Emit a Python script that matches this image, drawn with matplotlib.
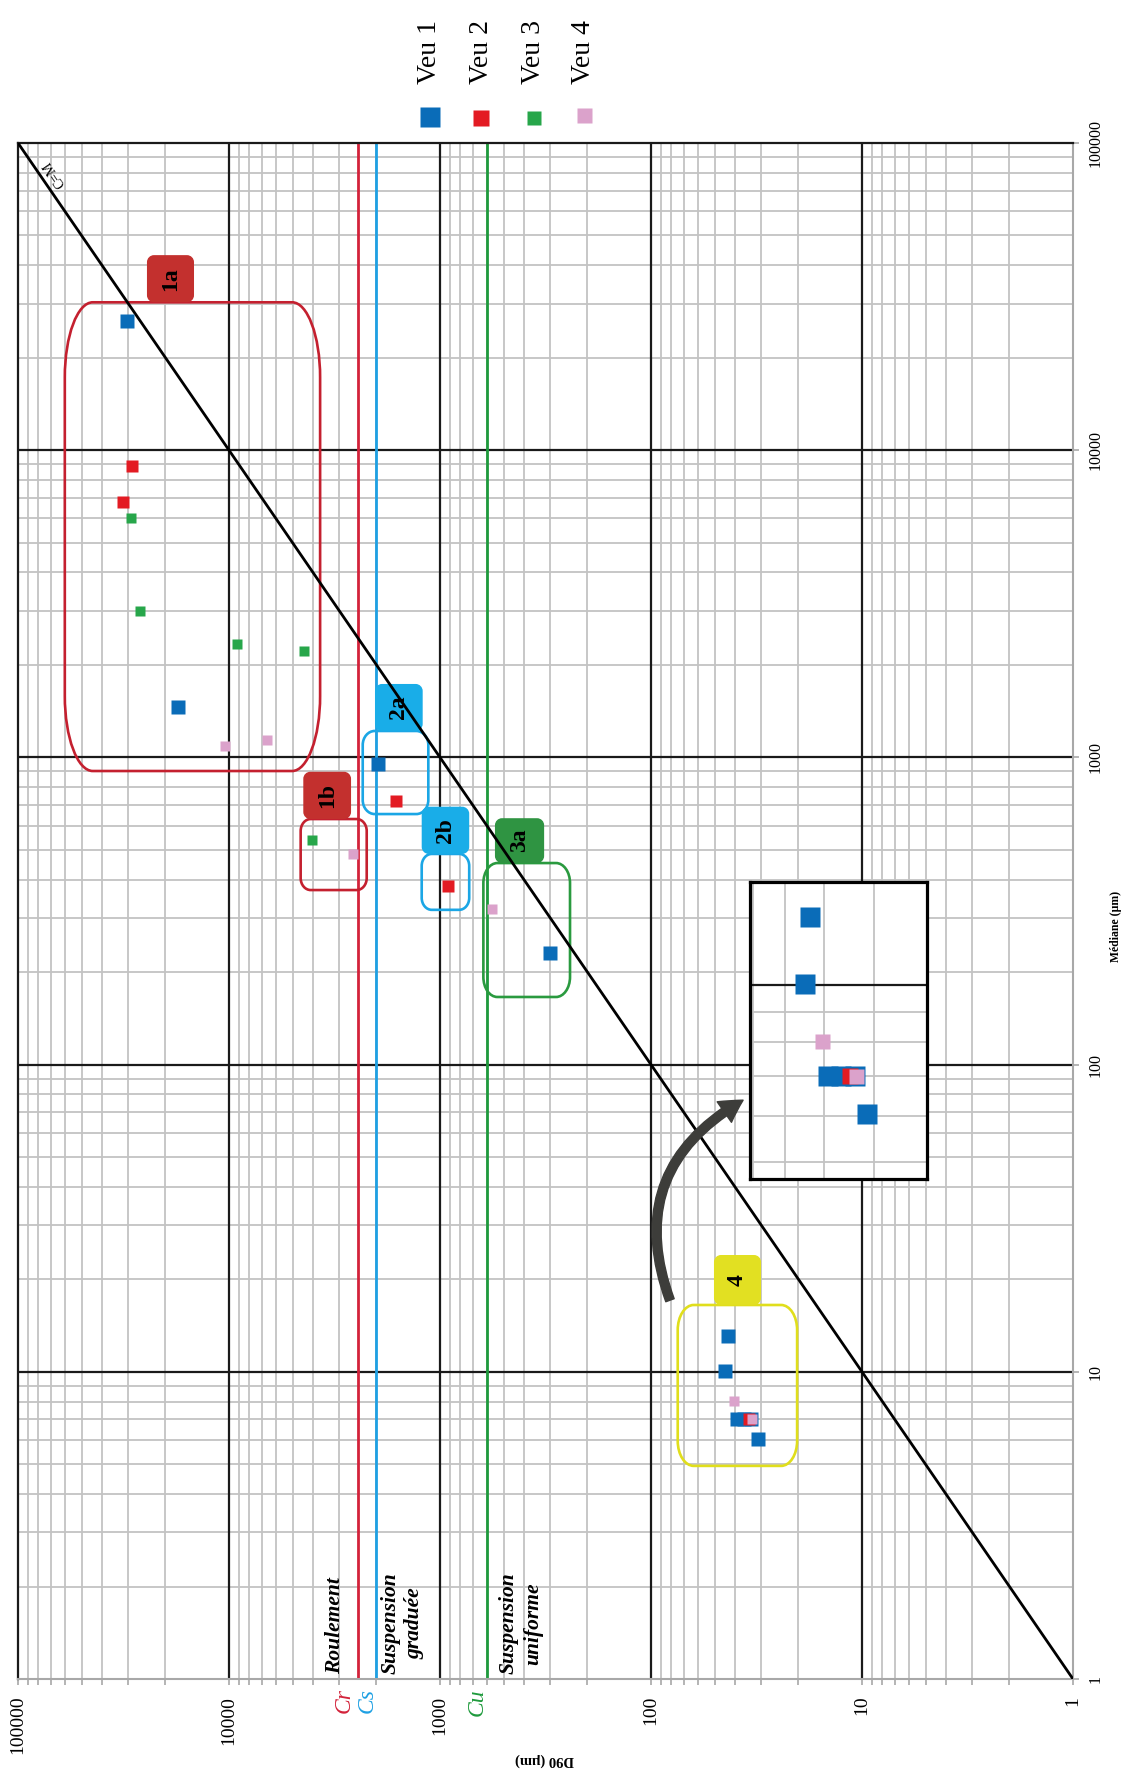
import numpy as np
import matplotlib
matplotlib.use("Agg")
import matplotlib.pyplot as plt
from matplotlib.path import Path
from matplotlib.patches import PathPatch, FancyArrowPatch
from matplotlib.transforms import IdentityTransform, blended_transform_factory
from matplotlib.lines import Line2D
from matplotlib.ticker import FixedLocator, NullFormatter, NullLocator

plt.rcParams['font.family'] = ['Liberation Serif', 'DejaVu Serif']

# ---------------- data ----------------
series_names = ['Veu 1', 'Veu 2', 'Veu 3', 'Veu 4']
veu1_d90 = [30500, 17500, 1958, 301, 43.3, 44.5, 39.1, 36.2, 33.4, 31.2]
veu1_med = [26300, 1460, 949, 230, 13.06, 10.05, 7.02, 7.02, 7.02, 6.04]
veu2_d90 = [28840, 31700, 1611, 916, 34.3]
veu2_med = [8860, 6780, 721, 381, 7.02]
veu3_d90 = [29110, 26500, 9200, 4425, 4043]
veu3_med = [6000, 3000, 2343, 2218, 538]
veu4_d90 = [10410, 6580, 2594, 568, 40.3, 33.2]
veu4_med = [1088, 1141, 483, 321, 8.05, 7.02]

tick_values = [1, 10, 100, 1000, 10000, 100000]
tick_labels = ['1', '10', '100', '1000', '10000', '100000']

threshold_names = ['Cr', 'Cs', 'Cu']
threshold_values = [2450, 2020, 600]

regime_labels = ['Roulement', 'Suspension\ngraduée', 'Suspension\nuniforme']
regime_d90 = [3146, 1506, 413]

group_names = ['1a', '1b', '2a', '2b', '3a', '4']
# box extents: D90 (left, right), Mediane (top, bottom)
group_box_d90 = [(60000, 3700), (4575, 2225), (2324, 1136), (1221, 727), (623, 242), (74.7, 20.3)]
group_box_med = [(30300, 903), (630, 370), (1219, 654), (485, 319), (453, 166), (16.5, 4.94)]
group_lab_d90 = [(24480, 14650), (4445, 2640), (2033, 1208), (1221, 727), (549, 321), (50.3, 30.1)]
group_lab_med = [(43150, 30300), (898, 630), (1734, 1219), (691, 485), (634, 453), (24, 16.5)]

inset_d90_lim = (61, 22.1)
inset_med_lim = (4.68, 15)
arrow_start = (81.3, 17.1)
arrow_end = (36.6, 76.6)

# ---------------- style ----------------
W, H = 1134, 1773
col_series = ['#0a6cb8', '#e31b23', '#27a64a', '#dba2cb']
ms_main = [9.7, 8.3, 6.9, 6.9]
ms_inset = [14.4, 12.2, 10, 10.8]
ms_leg = [13.7, 12.2, 10, 10.8]
thr_colors = ['#d3223a', '#1ea0e3', '#1e9a3c']
thr_text_off = [-14, -8, -10]
box_edge = ['#c4202f', '#c4202f', '#1ba6e5', '#1ba6e5', '#2a9a3f', '#e0de1c']
box_fill = ['#c3302e', '#c3302e', '#19ade8', '#19ade8', '#2f9442', '#e2e022']
box_r = [(28, 75), (10, 12), (12, 14), (10, 12), (14, 20), (16, 25)]
GRID = '#c3c3c3'
MAJ = '#1a1a1a'
SP = '#a8a8a8'

fig = plt.figure(figsize=(W / 100, H / 100), dpi=100)
L, R, T, B = 18, 1073, 143, 1679
ax = fig.add_axes([L / W, 1 - B / H, (R - L) / W, (B - T) / H])
ax.set_xscale('log')
ax.set_yscale('log')
ax.set_xlim(1e5, 1)
ax.set_ylim(1, 1e5)

minor_vals = [d * k for d in [1, 10, 100, 1000, 10000] for k in range(2, 10)]
for v in minor_vals:
    ax.axvline(v, color=GRID, lw=1.3, zorder=0.5)
    ax.axhline(v, color=GRID, lw=1.3, zorder=0.5)
for v in tick_values[1:-1]:
    ax.axvline(v, color=MAJ, lw=1.6, zorder=0.6)
    ax.axhline(v, color=MAJ, lw=1.6, zorder=0.6)

for s in ['left', 'top']:
    ax.spines[s].set_color(MAJ)
    ax.spines[s].set_linewidth(1.6)
for s in ['right', 'bottom']:
    ax.spines[s].set_color(SP)
    ax.spines[s].set_linewidth(1.5)

ax.xaxis.set_ticks_position('bottom')
ax.set_xticks(tick_values)
ax.set_xticklabels(tick_labels, rotation=90, fontsize=14)
ax.xaxis.set_minor_locator(FixedLocator(minor_vals))
ax.xaxis.set_minor_formatter(NullFormatter())
ax.tick_params(axis='x', which='both', direction='out', length=4, width=1.2, color=SP, pad=8)
ax.yaxis.set_ticks_position('right')
ax.set_yticks(tick_values)
ax.set_yticklabels(tick_labels, rotation=90, fontsize=11.5, va='center')
ax.yaxis.set_minor_locator(NullLocator())
ax.tick_params(axis='y', which='major', direction='out', length=4.3, width=1.2, color=SP, pad=6)

# threshold lines
for name, v, c, off in zip(threshold_names, threshold_values, thr_colors, thr_text_off):
    ax.axvline(v, color=c, lw=2.0, zorder=1.5)
    ax.annotate(name, xy=(v, 1), xycoords='data', xytext=(off, -9), textcoords='offset pixels',
                rotation=90, ha='center', va='top', color=c, fontsize=17, style='italic',
                annotation_clip=False)

# regime labels
btrans = blended_transform_factory(ax.transData, ax.transAxes)
for txt, v in zip(regime_labels, regime_d90):
    ax.text(v, 0.003, txt, transform=btrans, rotation=90, ha='center', va='bottom',
            multialignment='center', fontsize=15.5, fontweight='bold', style='italic',
            linespacing=1.3, zorder=3)

# C=M line
ax.plot([tick_values[0], tick_values[-1]], [tick_values[0], tick_values[-1]], color='black', lw=2.0, zorder=2.6)
p0 = ax.transData.transform((1, 1))
p1 = ax.transData.transform((1e5, 1e5))
ang = np.degrees(np.arctan2(p1[1] - p0[1], p1[0] - p0[0]))
ax.text(67500, 79300, 'C=M', rotation=ang, ha='center', va='center', fontsize=10,
        rotation_mode='anchor', zorder=3)


def rrect(x0, y0, x1, y1, rx, ry):
    k = 0.5523
    x0, x1 = min(x0, x1), max(x0, x1)
    y0, y1 = min(y0, y1), max(y0, y1)
    verts = [(x0 + rx, y0), (x1 - rx, y0),
             (x1 - rx + k * rx, y0), (x1, y0 + ry - k * ry), (x1, y0 + ry),
             (x1, y1 - ry),
             (x1, y1 - ry + k * ry), (x1 - rx + k * rx, y1), (x1 - rx, y1),
             (x0 + rx, y1),
             (x0 + rx - k * rx, y1), (x0, y1 - ry + k * ry), (x0, y1 - ry),
             (x0, y0 + ry),
             (x0, y0 + ry - k * ry), (x0 + rx - k * rx, y0), (x0 + rx, y0),
             (x0 + rx, y0)]
    codes = [Path.MOVETO, Path.LINETO] + [Path.CURVE4] * 3 + [Path.LINETO] + [Path.CURVE4] * 3 + \
            [Path.LINETO] + [Path.CURVE4] * 3 + [Path.LINETO] + [Path.CURVE4] * 3 + [Path.CLOSEPOLY]
    return Path(verts, codes)


for i, name in enumerate(group_names):
    (xa, xb), (ya, yb) = group_box_d90[i], group_box_med[i]
    a = ax.transData.transform((xa, ya))
    b = ax.transData.transform((xb, yb))
    rx, ry = box_r[i]
    p = PathPatch(rrect(a[0], a[1], b[0], b[1], rx, ry), transform=IdentityTransform(),
                  facecolor='none', edgecolor=box_edge[i], lw=1.9, zorder=2, clip_on=False)
    ax.add_artist(p)
    (xa, xb), (ya, yb) = group_lab_d90[i], group_lab_med[i]
    a = ax.transData.transform((xa, ya))
    b = ax.transData.transform((xb, yb))
    p = PathPatch(rrect(a[0], a[1], b[0], b[1], 7, 7), transform=IdentityTransform(),
                  facecolor=box_fill[i], edgecolor='none', zorder=2.1, clip_on=False)
    ax.add_artist(p)
    ax.text(np.sqrt(xa * xb), np.sqrt(ya * yb), name, rotation=90, ha='center', va='center',
            fontsize=17, fontweight='bold', color='black', zorder=3)

# points
all_d90 = [veu1_d90, veu2_d90, veu3_d90, veu4_d90]
all_med = [veu1_med, veu2_med, veu3_med, veu4_med]
for d, m, c, s in zip(all_d90, all_med, col_series, ms_main):
    ax.plot(d, m, ls='none', marker='s', ms=s, mfc=c, mec='none', zorder=4, clip_on=False)

# arrow
arr = FancyArrowPatch(arrow_start, arrow_end, transform=ax.transData,
                      connectionstyle='arc3,rad=-0.42',
                      arrowstyle='simple,head_length=0.8,head_width=0.9,tail_width=0.32',
                      mutation_scale=20, color='#3d3d3a', zorder=5, shrinkA=0, shrinkB=0)
fig.add_artist(arr)

# inset
IL, IR, IT, IB = 750, 927, 882, 1179
ax2 = fig.add_axes([IL / W, 1 - IB / H, (IR - IL) / W, (IB - IT) / H])
ax2.set_xscale('log')
ax2.set_yscale('log')
ax2.set_xlim(*inset_d90_lim)
ax2.set_ylim(*inset_med_lim)
ax2.set_facecolor('white')
for v in minor_vals:
    ax2.axvline(v, color=GRID, lw=1.3, zorder=0.5)
    ax2.axhline(v, color=GRID, lw=1.3, zorder=0.5)
for v in tick_values[1:-1]:
    ax2.axvline(v, color=MAJ, lw=1.6, zorder=0.6)
    ax2.axhline(v, color=MAJ, lw=1.6, zorder=0.6)
for s in ax2.spines.values():
    s.set_color('black')
    s.set_linewidth(2.3)
ax2.set_xticks([])
ax2.set_yticks([])
ax2.xaxis.set_minor_locator(NullLocator())
ax2.yaxis.set_minor_locator(NullLocator())
for d, m, c, s in zip(all_d90, all_med, col_series, ms_inset):
    dd = [x for x, y in zip(d, m) if x < 100]
    mm = [y for x, y in zip(d, m) if x < 100]
    ax2.plot(dd, mm, ls='none', marker='s', ms=s, mfc=c, mec='none', zorder=4)

# legend
leg_x = [430, 481, 534, 584]
leg_y = [117, 118, 118, 115]
for name, x, y, c, s in zip(series_names, leg_x, leg_y, col_series, ms_leg):
    fig.text(x / W, 1 - 84 / H, name, rotation=90, ha='center', va='bottom', fontsize=20)
    fig.add_artist(Line2D([x / W], [1 - y / H], marker='s', ms=s, mfc=c, mec='none',
                          ls='none', transform=fig.transFigure))

# axis titles
fig.text(1116 / W, 1 - 926 / H, 'Médiane (µm)', rotation=90, ha='center', va='center',
         fontsize=8.5, fontweight='bold')
fig.text(545 / W, 1 - 1760 / H, 'D90 (µm)', rotation=180, ha='center', va='center',
         fontsize=10.5, fontweight='bold')

fig.savefig('out.png', dpi=100)
